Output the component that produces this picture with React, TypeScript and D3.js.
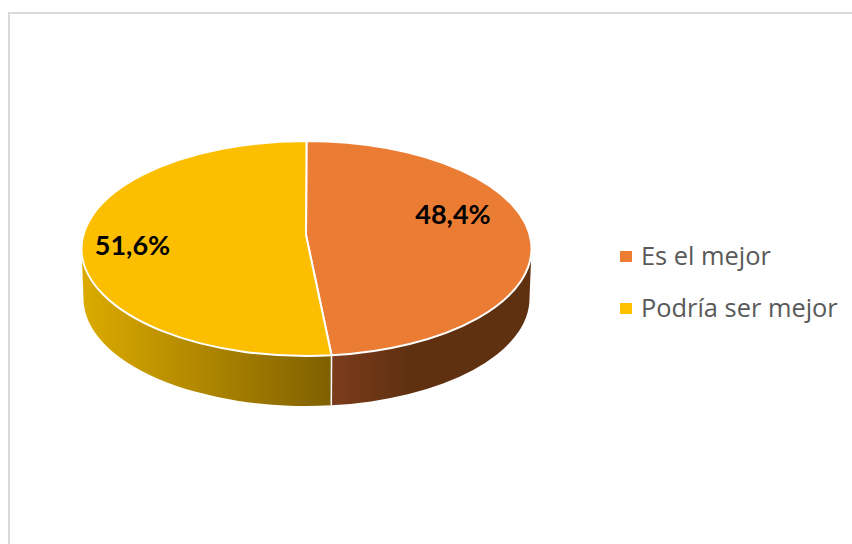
import React from "react";
import * as d3 from "d3";

const categories = ["Es el mejor", "Podría ser mejor"];
const values = [48.4, 51.6];
const labels = ["48,4%", "51,6%"];
const colors = ["#ED7D31", "#FFC000"];
const topColors = ["#EB7C33", "#FBBE00"];
const sideStops = [
  ["#7C3C1C", "#5F3110"],
  ["#DCAB00", "#7F6000"],
];

const W = 852, H = 544;
const cx = 306.5, cy = 248.5, rx = 225, ry = 107.5, depth = 50, rxBottom = 223;
// the picture is drawn in slight perspective: the seam at the front sits a little further right
// and the hub of the pie sits above the middle of the ellipse
const seamShift = -0.011;
const hubX = 306, hubY = 235;

const pieSlices = d3.pie<number>().sort(null)(values);
const slices = pieSlices.map((s, i) => ({
  ...s,
  startAngle: i === 1 ? s.startAngle + seamShift : s.startAngle,
  endAngle: i === 0 ? s.endAngle + seamShift : s.endAngle,
}));
const px = (a: number) => cx + rx * Math.sin(a);
const py = (a: number) => cy - ry * Math.cos(a);
const bx = (a: number) => cx + rxBottom * Math.sin(a);

function topPath(a0: number, a1: number) {
  const p = d3.path();
  p.moveTo(hubX, hubY);
  p.lineTo(px(a0), py(a0));
  const large = a1 - a0 > Math.PI ? 1 : 0;
  return `${p.toString()} A${rx},${ry} 0 ${large} 1 ${px(a1)},${py(a1)} Z`;
}

function sidePath(a0: number, a1: number) {
  const s = Math.max(a0, Math.PI / 2);
  const e = Math.min(a1, (3 * Math.PI) / 2);
  return [
    `M${px(s)},${py(s)}`,
    `A${rx},${ry} 0 0 1 ${px(e)},${py(e)}`,
    `L${bx(e)},${py(e) + depth}`,
    `A${rxBottom},${ry} 0 0 0 ${bx(s)},${py(s) + depth}`,
    "Z",
  ].join(" ");
}

const gradX = [
  [px(slices[0].endAngle), 531],
  [82, px(slices[1].startAngle)],
];
const labelPos = [
  [453, 215],
  [132.5, 246],
];

export default function App() {
  return (
    <svg width={W} height={H} viewBox={`0 0 ${W} ${H}`}
      style={{ position: "absolute", left: 0, top: 0, background: "#fff" }}>
      <defs>
        {slices.map((s, i) => (
          <linearGradient key={i} id={`side${i}`} gradientUnits="userSpaceOnUse"
            x1={gradX[i][0]} x2={gradX[i][1]} y1={0} y2={0}>
            <stop offset={0} stopColor={sideStops[i][0]} />
            <stop offset={i === 0 ? 0.4 : 1} stopColor={sideStops[i][1]} />
          </linearGradient>
        ))}
      </defs>
      <path d={`M9,${H} V13 H${W}`} fill="none" stroke="#d9d9d9" strokeWidth={2} />
      {slices.map((s, i) => (
        <path key={i} d={sidePath(s.startAngle, s.endAngle)} fill={`url(#side${i})`} />
      ))}
      <line x1={px(slices[0].endAngle)} x2={bx(slices[0].endAngle)}
        y1={py(slices[0].endAngle)} y2={py(slices[0].endAngle) + depth}
        stroke="#fff" strokeWidth={1.5} />
      {slices.map((s, i) => (
        <path key={i} d={topPath(s.startAngle, s.endAngle)} fill={topColors[i]} stroke="#fff"
          strokeWidth={2} strokeLinejoin="round" />
      ))}
      {labels.map((t, i) => (
        <text key={i} x={labelPos[i][0]} y={labelPos[i][1]} dy="0.35em" textAnchor="middle"
          fontFamily="Lato, 'Open Sans', sans-serif" fontWeight={700} fontSize={27} fill="#000">{t}</text>
      ))}
      {categories.map((c, i) => (
        <g key={c}>
          <rect x={620} y={251 + i * 52} width={12} height={11} fill={colors[i]} />
          <text x={641} y={256.5 + i * 52} dy="0.35em" fontFamily="'Open Sans', sans-serif"
            fontSize={25.4} fill="#595959">{c}</text>
        </g>
      ))}
    </svg>
  );
}
